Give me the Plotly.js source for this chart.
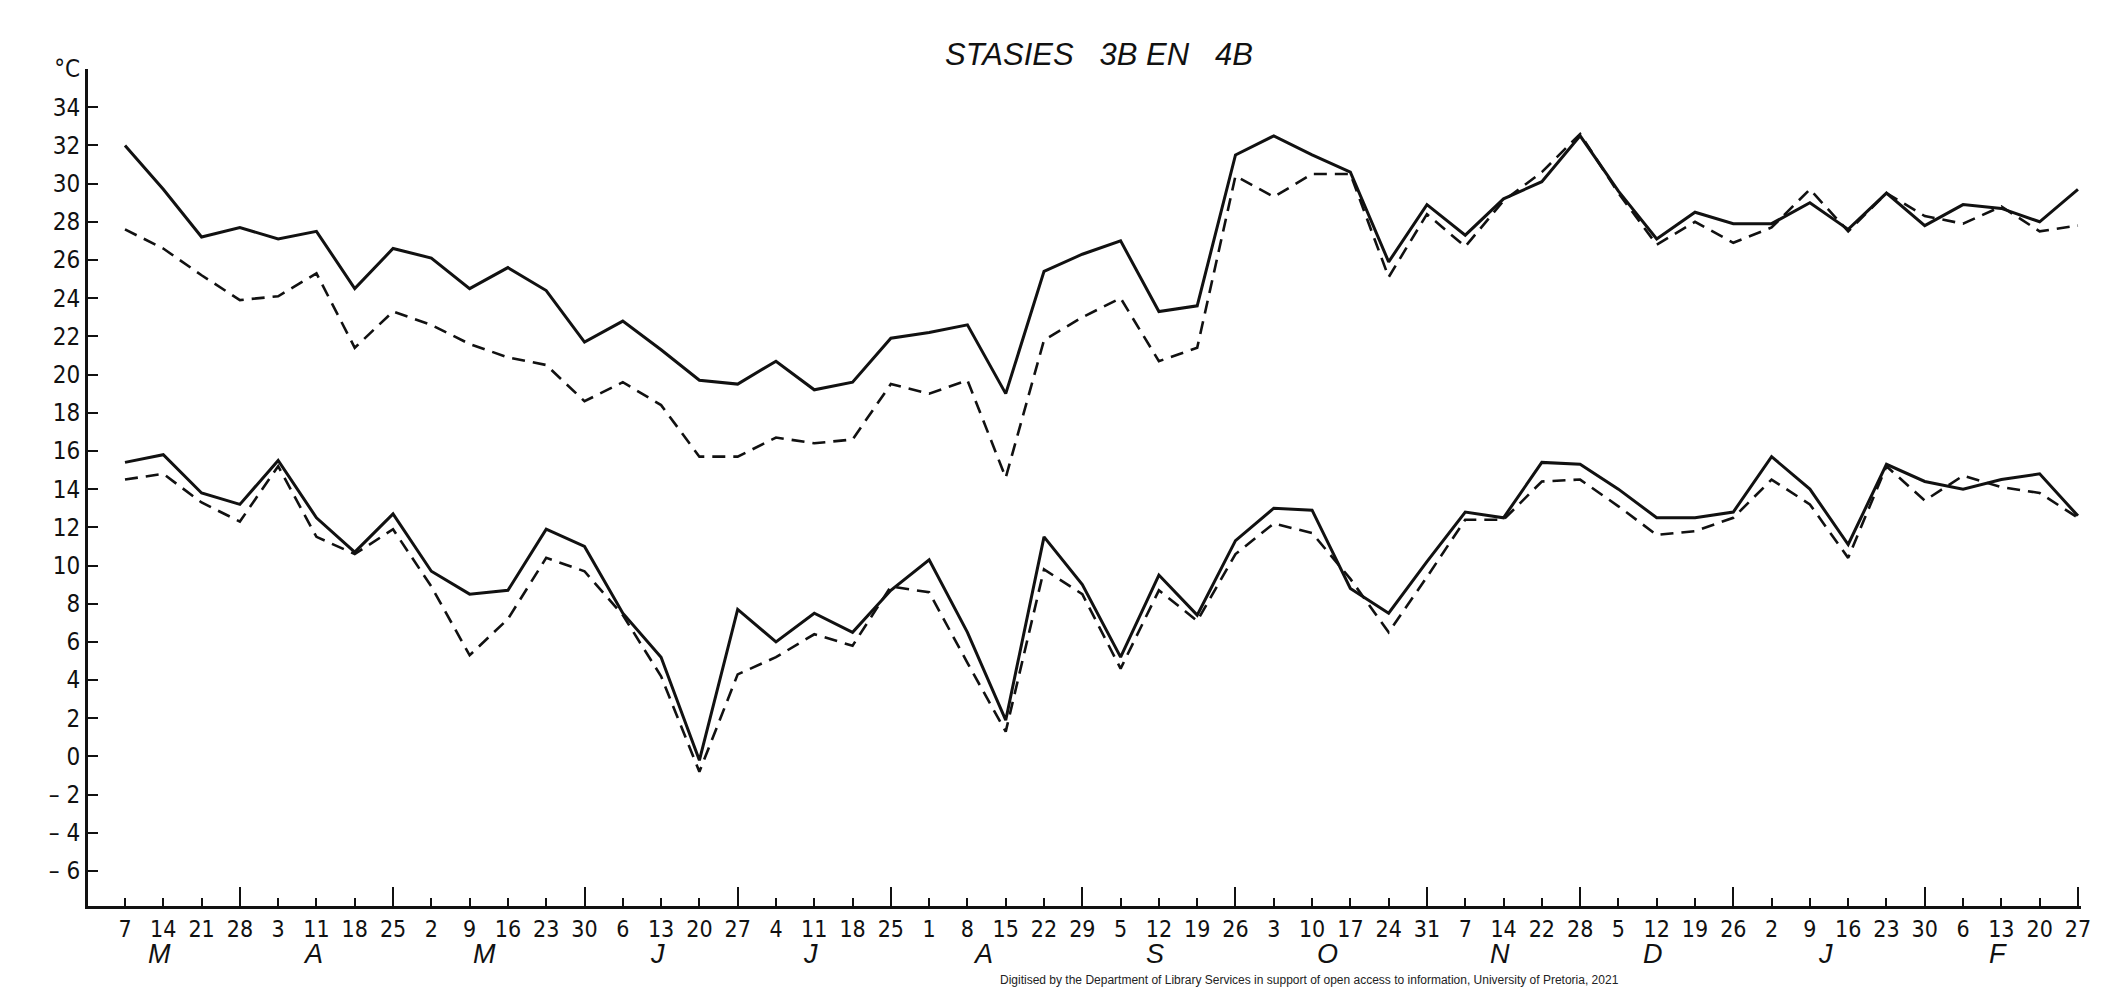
<!DOCTYPE html>
<html>
<head>
<meta charset="utf-8">
<script src="https://cdn.plot.ly/plotly-3.0.1.min.js"></script>
<style>
  html, body { margin: 0; padding: 0; background: #fff; overflow: hidden; }
  #chart { width: 2102px; height: 989px; }
</style>
</head>
<body>
<div id="chart"></div>
<script>
// Weekly readings, 7 March to 27 February
const weekDays = [7, 14, 21, 28, 3, 11, 18, 25, 2, 9, 16, 23, 30, 6, 13, 20, 27,
  4, 11, 18, 25, 1, 8, 15, 22, 29, 5, 12, 19, 26, 3, 10, 17, 24, 31,
  7, 14, 22, 28, 5, 12, 19, 26, 2, 9, 16, 23, 30, 6, 13, 20, 27];

// Month letters and number of weekly readings in each month
const monthLetters = ['M', 'A', 'M', 'J', 'J', 'A', 'S', 'O', 'N', 'D', 'J', 'F'];
const weeksPerMonth = [4, 4, 5, 4, 4, 5, 4, 5, 4, 4, 5, 4];

// Upper pair of curves (°C)
const upperSolid = [32.0, 29.7, 27.2, 27.7, 27.1, 27.5, 24.5, 26.6, 26.1, 24.5, 25.6, 24.4,
  21.7, 22.8, 21.3, 19.7, 19.5, 20.7, 19.2, 19.6, 21.9, 22.2, 22.6, 19.0, 25.4, 26.3,
  27.0, 23.3, 23.6, 31.5, 32.5, 31.5, 30.6, 25.9, 28.9, 27.3, 29.2, 30.1, 32.5, 29.6,
  27.1, 28.5, 27.9, 27.9, 29.0, 27.6, 29.5, 27.8, 28.9, 28.7, 28.0, 29.7];
const upperDashed = [27.6, 26.6, 25.2, 23.9, 24.1, 25.3, 21.4, 23.3, 22.6, 21.6, 20.9, 20.5,
  18.6, 19.6, 18.4, 15.7, 15.7, 16.7, 16.4, 16.6, 19.5, 19.0, 19.7, 14.6, 21.8, 23.0,
  24.0, 20.7, 21.4, 30.4, 29.3, 30.5, 30.5, 25.1, 28.4, 26.7, 29.1, 30.6, 32.6, 29.5,
  26.8, 28.0, 26.9, 27.7, 29.7, 27.5, 29.5, 28.3, 27.9, 28.8, 27.5, 27.8];

// Lower pair of curves (°C)
const lowerSolid = [15.4, 15.8, 13.8, 13.2, 15.5, 12.5, 10.7, 12.7, 9.7, 8.5, 8.7, 11.9,
  11.0, 7.5, 5.2, -0.2, 7.7, 6.0, 7.5, 6.5, 8.7, 10.3, 6.5, 1.9, 11.5, 9.0,
  5.2, 9.5, 7.4, 11.3, 13.0, 12.9, 8.8, 7.5, 10.2, 12.8, 12.5, 15.4, 15.3, 14.0,
  12.5, 12.5, 12.8, 15.7, 14.0, 11.1, 15.3, 14.4, 14.0, 14.5, 14.8, 12.6];
const lowerDashed = [14.5, 14.8, 13.3, 12.3, 15.2, 11.5, 10.6, 11.9, 8.9, 5.3, 7.2, 10.4,
  9.7, 7.4, 4.2, -0.8, 4.3, 5.2, 6.4, 5.8, 8.9, 8.6, 4.9, 1.3, 9.8, 8.5,
  4.6, 8.7, 7.1, 10.6, 12.2, 11.7, 9.3, 6.5, 9.4, 12.4, 12.4, 14.4, 14.5, 13.1,
  11.6, 11.8, 12.5, 14.5, 13.2, 10.4, 15.2, 13.4, 14.7, 14.1, 13.8, 12.5];

// Temperature scale
const yTickVals = [-6, -4, -2, 0, 2, 4, 6, 8, 10, 12, 14, 16, 18, 20, 22, 24, 26, 28, 30, 32, 34, 36];
const yTickText = ['\u2013 6', '\u2013 4', '\u2013 2', '0', '2', '4', '6', '8', '10', '12', '14', '16',
  '18', '20', '22', '24', '26', '28', '30', '32', '34', '\u00b0C'];

const weekIdx = weekDays.map((_, i) => i);

// Index of the last week of every month (gets a longer tick) and month label centres
const monthEnds = [];
const monthCentres = [];
let start = 0;
weeksPerMonth.forEach(n => {
  monthEnds.push(start + n - 1);
  monthCentres.push(start + (n - 1) / 2 - 0.6);
  start += n;
});

const ink = '#111111';
const handFont = "'Liberation Sans Narrow', 'DejaVu Sans Condensed', 'Liberation Sans', sans-serif";

function curve(y, dashed) {
  return {
    x: weekIdx, y: y, type: 'scatter', mode: 'lines',
    line: { color: ink, width: dashed ? 2.6 : 3, dash: dashed ? '13px,8px' : 'solid' },
    hoverinfo: 'skip', showlegend: false
  };
}

const traces = [
  curve(upperSolid, false), curve(upperDashed, true),
  curve(lowerSolid, false), curve(lowerDashed, true)
];

const annotations = monthLetters.map((m, k) => ({
  x: monthCentres[k], xref: 'x', y: -0.0573, yref: 'paper',
  text: '<i>' + m + '</i>', showarrow: false, borderpad: 0,
  font: { family: "'Liberation Sans', 'DejaVu Sans', sans-serif", size: 27, color: ink },
  xanchor: 'center', yanchor: 'middle'
}));
annotations.push({
  x: 0.457, xref: 'paper', y: -0.0985, yref: 'paper', xanchor: 'left', yanchor: 'bottom',
  text: 'Digitised by the Department of Library Services in support of open access to information, University of Pretoria, 2021',
  showarrow: false, borderpad: 0,
  font: { family: "'Liberation Sans', Arial, sans-serif", size: 12, color: '#222' }
});

const layout = {
  width: 2102, height: 989,
  margin: { l: 88, r: 21, t: 69, b: 83 },
  paper_bgcolor: '#fff', plot_bgcolor: '#fff',
  title: {
    text: '<i>STASIES\u00a0\u00a0 3B EN\u00a0\u00a0 4B</i>',
    x: 0.5228, xanchor: 'center', y: 0.945, yanchor: 'middle',
    font: { family: "'Liberation Sans', 'DejaVu Sans', sans-serif", size: 31, color: ink }
  },
  xaxis: {
    range: [-0.966, 51.08], showgrid: false, zeroline: false,
    showline: true, linecolor: ink, linewidth: 3,
    tickmode: 'array', tickvals: weekIdx, ticktext: weekDays.map(String),
    ticks: 'inside', ticklen: 8, tickwidth: 2, tickcolor: ink,
    tickfont: { family: handFont, size: 23, color: ink }
  },
  xaxis2: {
    overlaying: 'x', matches: 'x', side: 'bottom', showgrid: false, zeroline: false,
    showline: false, tickmode: 'array', tickvals: monthEnds, showticklabels: false,
    ticks: 'inside', ticklen: 19, tickwidth: 2, tickcolor: ink
  },
  yaxis: {
    range: [-7.83, 36.0], showgrid: false, zeroline: false,
    showline: true, linecolor: ink, linewidth: 3,
    tickmode: 'array', tickvals: yTickVals, ticktext: yTickText,
    ticks: 'inside', ticklen: 10, tickwidth: 2, tickcolor: ink,
    tickfont: { family: handFont, size: 24, color: ink }
  },
  annotations: annotations
};

// Invisible helper trace so the month-end tick axis is drawn
traces.push({ x: [0], y: [0], xaxis: 'x2', type: 'scatter', mode: 'markers',
  marker: { opacity: 0 }, hoverinfo: 'skip', showlegend: false });

Plotly.newPlot('chart', traces, layout, { displayModeBar: false, staticPlot: true });
</script>
</body>
</html>
